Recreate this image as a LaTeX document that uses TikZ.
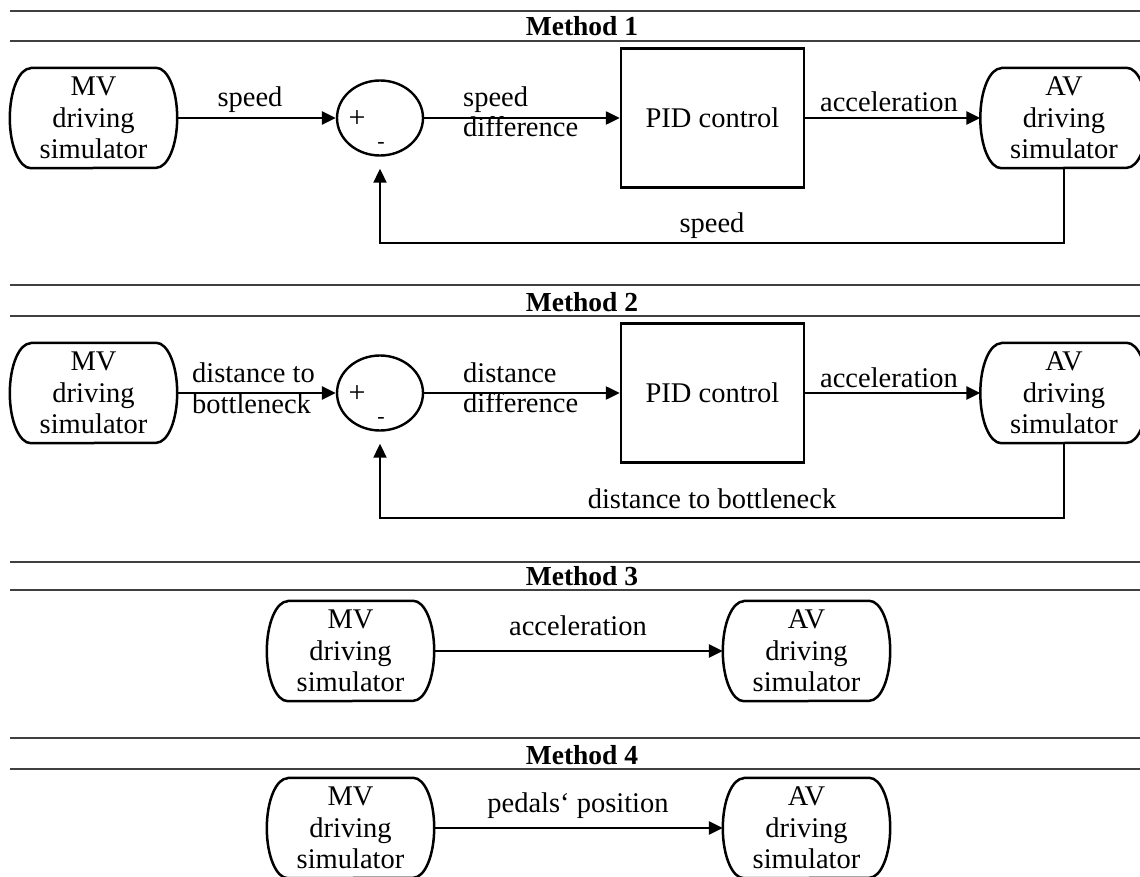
\documentclass[tikz,border=0pt]{standalone}
\usepackage{fontspec}
\setmainfont{Liberation Serif}
\usetikzlibrary{arrows.meta,shapes.geometric}

\newcommand\simoutline[1]{%
  \draw[boxline] ([xshift=21pt]#1.north west) -- ([xshift=-21pt]#1.north east)
    arc[start angle=90,end angle=-90,x radius=21pt,y radius=50pt]
    -- ([xshift=21pt]#1.south west)
    arc[start angle=270,end angle=90,x radius=21pt,y radius=50pt] -- cycle;}

\tikzset{
  txt/.style={font=\fontsize{28.5}{31.5}\selectfont},
  boxline/.style={line width=2.5pt, line join=round},
  simbox/.style={txt, rectangle, minimum width=167pt, minimum height=100pt,
    align=center, inner sep=0pt},
  sumnode/.style={ellipse, draw, line width=2.4pt, minimum width=86pt,
    minimum height=75pt, inner sep=0pt},
  pidbox/.style={txt, rectangle, draw, line width=2.5pt, minimum width=183pt,
    minimum height=139pt, inner sep=0pt},
  flow/.style={line width=2.5pt, -{Triangle[length=14pt,width=13pt]}},
  fb/.style={line width=2pt, -{Triangle[length=14pt,width=13pt]}, shorten >=12pt},
  hline/.style={line width=1.5pt, black!75},
  lbl/.style={txt, inner sep=0pt, anchor=base},
  lbll/.style={txt, inner sep=0pt, anchor=base west},
  ttl/.style={font=\fontsize{27.5}{31}\selectfont\bfseries, inner sep=0pt, anchor=base},
  sign/.style={font=\fontsize{30}{30}\selectfont, inner sep=0pt},
  msign/.style={font=\fontsize{22}{22}\selectfont, inner sep=0pt}
}

\begin{document}
\begin{tikzpicture}[x=1pt,y=1pt]
\useasboundingbox (0,0) rectangle (1140,-877);

% ---------------- Method 1 ----------------
\draw[hline] (10,-11) -- (1140,-11);
\draw[hline] (10,-41) -- (1140,-41);
\node[ttl] (t1) at (582,-36) {Method 1};

\node[simbox] (mv1) at (93.5,-118) {MV\\driving\\simulator};
\simoutline{mv1}
\node[sumnode] (sum1) at (380,-118) {};
\node[sign] (p1) at (357,-119) {+};
\node[msign] (m1) at (381,-145) {-};
\node[pidbox] (pid1) at (712.5,-118) {PID control};
\node[simbox] (av1) at (1064,-118) {AV\\driving\\simulator};
\simoutline{av1}

\draw[flow] (mv1.east) -- (sum1.west);
\node[lbl] (l1a) at (250,-107) {speed};
\draw[flow] (sum1.east) -- (pid1.west);
\node[lbll] (l1b) at (463,-107) {speed};
\node[lbll] (l1c) at (463,-137) {difference};
\draw[flow] (pid1.east) -- (av1.west);
\node[lbl] (l1d) at (889,-112) {acceleration};
\draw[fb] (av1.south) -- ++(0,-75) -| (sum1.south);
\node[lbl] (l1e) at (712,-233) {speed};

% ---------------- Method 2 ----------------
\draw[hline] (10,-285) -- (1140,-285);
\draw[hline] (10,-316) -- (1140,-316);
\node[ttl] (t2) at (582,-311) {Method 2};

\node[simbox] (mv2) at (93.5,-393) {MV\\driving\\simulator};
\simoutline{mv2}
\node[sumnode] (sum2) at (380,-393) {};
\node[sign] (p2) at (357,-394) {+};
\node[msign] (m2) at (381,-420) {-};
\node[pidbox] (pid2) at (712.5,-393) {PID control};
\node[simbox] (av2) at (1064,-393) {AV\\driving\\simulator};
\simoutline{av2}

\draw[flow] (mv2.east) -- (sum2.west);
\node[lbll] (l2a) at (192,-382.5) {distance to};
\node[lbll] (l2b) at (192,-413) {bottleneck};
\draw[flow] (sum2.east) -- (pid2.west);
\node[lbll] (l2c) at (463,-382) {distance};
\node[lbll] (l2d) at (463,-412) {difference};
\draw[flow] (pid2.east) -- (av2.west);
\node[lbl] (l2e) at (889,-387) {acceleration};
\draw[fb] (av2.south) -- ++(0,-75) -| (sum2.south);
\node[lbl] (l2f) at (712,-508) {distance to bottleneck};

% ---------------- Method 3 ----------------
\draw[hline] (10,-562) -- (1140,-562);
\draw[hline] (10,-590) -- (1140,-590);
\node[ttl] (t3) at (582,-585) {Method 3};

\node[simbox] (mv3) at (350.5,-651) {MV\\driving\\simulator};
\simoutline{mv3}
\node[simbox] (av3) at (806.5,-651) {AV\\driving\\simulator};
\simoutline{av3}
\draw[flow] (mv3.east) -- (av3.west);
\node[lbl] (l3) at (578,-635) {acceleration};

% ---------------- Method 4 ----------------
\draw[hline] (10,-738) -- (1140,-738);
\draw[hline] (10,-769) -- (1140,-769);
\node[ttl] (t4) at (582,-764) {Method 4};

\node[simbox] (mv4) at (350.5,-828) {MV\\driving\\simulator};
\simoutline{mv4}
\node[simbox] (av4) at (806.5,-828) {AV\\driving\\simulator};
\simoutline{av4}
\draw[flow] (mv4.east) -- (av4.west);
\node[lbl] (l4) at (578,-812) {pedals‘ position};
\end{tikzpicture}
\end{document}
